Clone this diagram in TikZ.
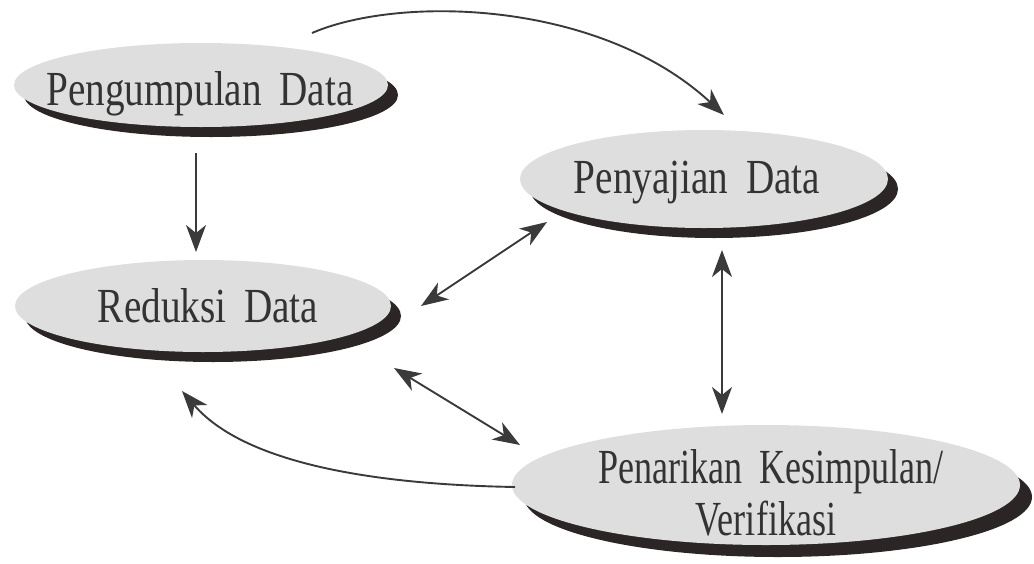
\documentclass[tikz,border=0pt]{standalone}
\usepackage{fontspec}
\setmainfont{Liberation Serif}[FakeStretch=0.8, WordSpace=1.8]
\usetikzlibrary{arrows.meta,shapes.geometric,shadows}
\definecolor{fillc}{HTML}{DEDEDE}
\definecolor{shadc}{HTML}{2B2525}
\definecolor{inkc}{HTML}{333333}
\definecolor{linec}{HTML}{3A3A3A}
\begin{document}
\begin{tikzpicture}[x=1pt,y=-1pt,
  blob/.style={ellipse, fill=fillc, inner sep=0pt, draw=none},
  shad/.style={drop shadow={shadow xshift=#1, shadow yshift=-#1, fill=shadc, opacity=1}},
  lbl/.style={font=\fontsize{49}{52}\selectfont, text=inkc, inner sep=0pt, align=center},
  tip/.tip={Stealth[length=27pt,width=20pt,inset=8pt]},
  arr/.style={draw=linec, line width=1.9pt, -tip},
  darr/.style={draw=linec, line width=1.9pt, tip-tip}]
\useasboundingbox (0,0) rectangle (1034,563);
% ellipses
\node[blob, shad=10pt, minimum width=374pt, minimum height=84pt] (e1) at (201,85) {};
\node[blob, shad=10pt, minimum width=368pt, minimum height=98pt] (e2) at (704,179) {};
\node[blob, shad=10pt, minimum width=376pt, minimum height=92pt] (e3) at (203,306) {};
\node[blob, shad=12pt, minimum width=508pt, minimum height=120pt] (e4) at (766,485) {};
% labels
\node[lbl, anchor=base] (t1) at (200,105) {Pengumpulan Data};
\node[lbl, anchor=base] (t2) at (697,193) {Penyajian Data};
\node[lbl, anchor=base] (t3) at (208,322) {Reduksi Data};
\node[lbl, anchor=base] (t4a) at (771,483) {\scalebox{0.92}[1]{Penarikan Kesimpulan/}};
\node[lbl, anchor=base] (t4b) at (766,535) {\scalebox{0.92}[1]{Verifikasi}};
% connector ends
\coordinate (a1s) at (196,153);
\coordinate (a1e) at (196,252);
\coordinate (a2s) at (312,33);
\coordinate (a2e) at (724,115);
\coordinate (a3s) at (421,306);
\coordinate (a3e) at (547,222);
\coordinate (a4s) at (722,250);
\coordinate (a4e) at (722,414);
\coordinate (a5s) at (394,368);
\coordinate (a5e) at (520,445);
\coordinate (a6s) at (515,487);
\coordinate (a6e) at (182,391);
% connectors
\draw[arr] (a1s) -- (a1e);
\draw[arr] (a2s) .. controls (400,-5) and (600,0) .. (a2e);
\draw[darr] (a3s) -- (a3e);
\draw[darr] (a4s) -- (a4e);
\draw[darr] (a5s) -- (a5e);
\draw[arr] (a6s) .. controls (400,485) and (250,470) .. (a6e);
\end{tikzpicture}
\end{document}
